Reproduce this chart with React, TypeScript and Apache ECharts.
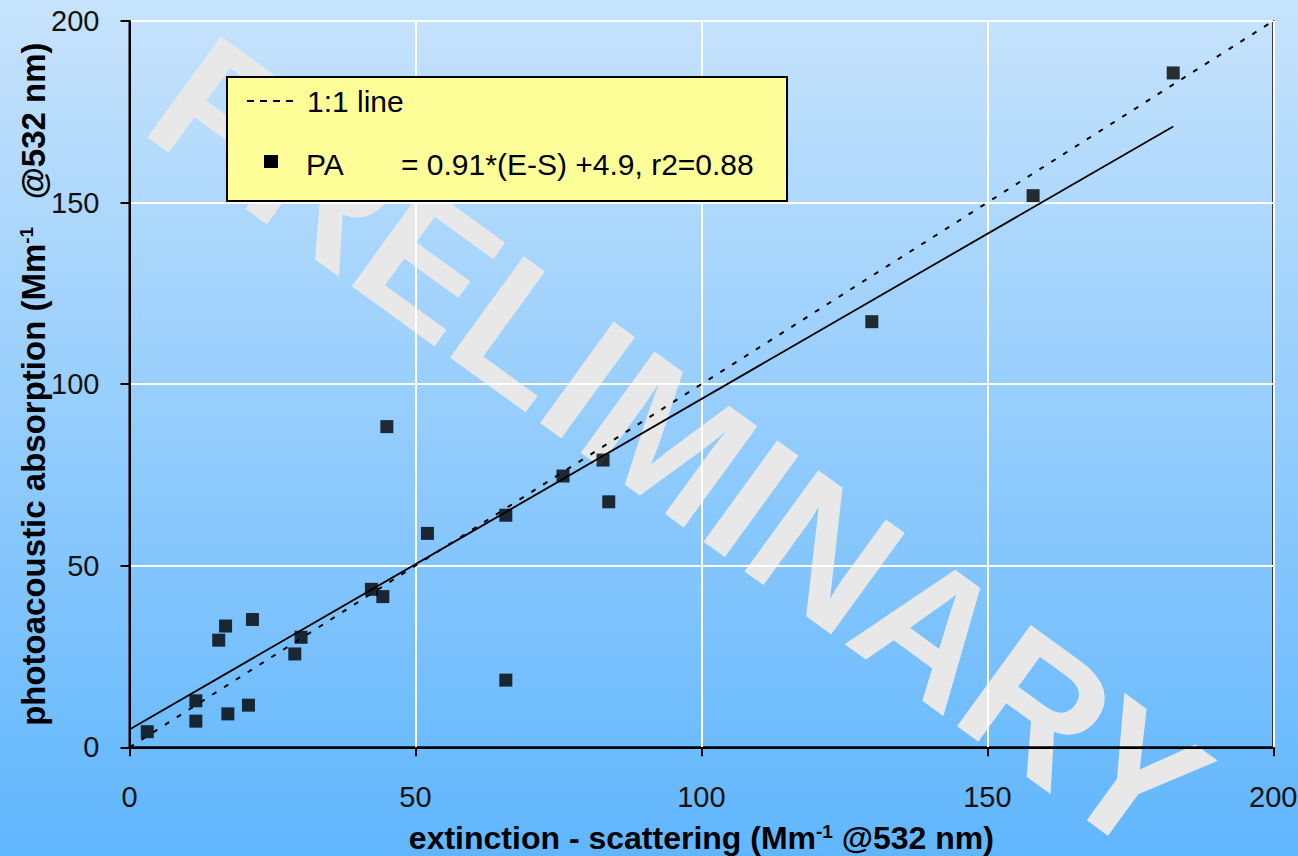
import React, { useEffect, useRef } from "react";
import * as echarts from "echarts";

// Measured pairs: extinction - scattering (x) vs photoacoustic absorption (y)
const extMinusScat = [3.1, 11.6, 11.6, 15.6, 16.8, 17.2, 20.8, 21.5, 28.9, 30.0, 42.3, 44.3, 45.0, 52.1, 65.8, 65.8, 75.8, 82.8, 83.8, 129.8, 158.0, 182.5];
const paAbsorption = [4.3, 12.8, 7.2, 29.5, 33.4, 9.2, 11.6, 35.2, 25.7, 30.3, 43.5, 41.5, 88.3, 58.9, 63.9, 18.5, 74.7, 79.1, 67.6, 117.2, 151.9, 185.7];

// Linear fit PA = 0.91*(E-S) + 4.9
const fitSlope = 0.91;
const fitIntercept = 4.9;

const axisTicks = [0, 50, 100, 150, 200];
const legendLine1 = "1:1 line";
const legendName = "PA";
const legendFit = "= 0.91*(E-S) +4.9, r2=0.88";
const watermark = "PRELIMINARY";

const FONT = "'Liberation Sans', Arial, sans-serif";

export default function App() {
  const ref = useRef<HTMLDivElement>(null);

  useEffect(() => {
    if (!ref.current) return;
    const chart = echarts.init(ref.current, undefined, { renderer: "svg" });

    const points = extMinusScat.map((x, i) => [x, paAbsorption[i]]);
    const fitEnd = Math.max(...extMinusScat);
    const fitLine = [
      [0, fitIntercept],
      [fitEnd, fitSlope * fitEnd + fitIntercept],
    ];
    const lo = axisTicks[0];
    const hi = axisTicks[axisTicks.length - 1];
    const oneToOne = [
      [lo, lo],
      [hi, hi],
    ];

    const nameStyle = (size: number) => ({
      fontFamily: FONT,
      fontSize: size,
      fontWeight: "bold" as const,
      color: "#000",
      rich: {
        t: { fontFamily: FONT, fontSize: size, fontWeight: "bold" as const, color: "#000" },
        s: { fontFamily: FONT, fontSize: 19, fontWeight: "bold" as const, color: "#000", verticalAlign: "top" as const },
      },
    });

    const valueAxis = (name: string, gap: number, size: number, labelMargin: number) => ({
      type: "value" as const,
      min: lo,
      max: hi,
      interval: axisTicks[1] - axisTicks[0],
      name,
      nameLocation: "middle" as const,
      nameGap: gap,
      nameMoveOverlap: false,
      nameTextStyle: nameStyle(size),
      axisLine: { show: true, lineStyle: { color: "#000", width: 2 } },
      axisTick: { show: true, inside: false, length: 9, lineStyle: { color: "#000", width: 2 } },
      axisLabel: { fontFamily: FONT, fontSize: 29, color: "#111", margin: labelMargin },
      splitLine: { show: true, lineStyle: { color: "#ffffff", width: 2 } },
    });

    const onTop = 100;

    chart.setOption({
      animation: false,
      backgroundColor: {
        type: "linear",
        x: 0,
        y: 0,
        x2: 0,
        y2: 1,
        colorStops: [
          { offset: 0, color: "#c7e3fc" },
          { offset: 1, color: "#60b6fd" },
        ],
      },
      grid: {
        left: 129.5,
        right: 24.7,
        top: 21,
        bottom: 108.7,
        outerBoundsMode: "none",
        containLabel: false,
        show: true,
        backgroundColor: "transparent",
        borderColor: "#000",
        borderWidth: 2,
      },
      xAxis: { ...valueAxis("{t|extinction - scattering (Mm}{s|-1}{t| @532 nm)}", 75, 32, 35) },
      yAxis: { ...valueAxis("{t|photoacoustic absorption (Mm}{s|-1}{t|   @532 nm)}", 80, 33, 30) },
      series: [
        {
          type: "line",
          data: oneToOne,
          symbol: "none",
          lineStyle: { color: "#000", width: 2, type: [5, 9] },
          z: 3,
        },
        {
          type: "line",
          data: fitLine,
          symbol: "none",
          lineStyle: { color: "#000", width: 1.8 },
          z: 3,
        },
        {
          type: "scatter",
          data: points,
          symbol: "rect",
          symbolSize: [13, 13],
          itemStyle: { color: "#000" },
          z: 4,
        },
      ],
      graphic: [
        {
          type: "text",
          z: -1,
          x: 679,
          y: 446,
          rotation: (-36 * Math.PI) / 180,
          silent: true,
          style: {
            text: watermark,
            x: 0,
            y: 0,
            align: "center",
            verticalAlign: "middle",
            fontFamily: FONT,
            fontWeight: "bold",
            fontSize: 182,
            fill: "#e8e8e8",
          },
        },
        {
          type: "rect",
          z: onTop,
          shape: { x: 227, y: 77, width: 560, height: 124 },
          style: { fill: "#ffff99", stroke: "#000", lineWidth: 2 },
        },
        {
          type: "line",
          z: onTop,
          shape: { x1: 247, y1: 101, x2: 297, y2: 101 },
          style: { stroke: "#000", lineWidth: 2, lineDash: [7, 6] },
        },
        {
          type: "text",
          z: onTop,
          style: { text: legendLine1, x: 307, y: 101, verticalAlign: "middle", fontFamily: FONT, fontSize: 30, fill: "#000" },
        },
        {
          type: "rect",
          z: onTop,
          shape: { x: 264, y: 155, width: 14, height: 13 },
          style: { fill: "#000" },
        },
        {
          type: "text",
          z: onTop,
          style: { text: legendName, x: 306, y: 164, verticalAlign: "middle", fontFamily: FONT, fontSize: 30, fill: "#000" },
        },
        {
          type: "text",
          z: onTop,
          style: { text: legendFit, x: 401, y: 164, verticalAlign: "middle", fontFamily: FONT, fontSize: 30, fill: "#000" },
        },
      ],
    });

    return () => chart.dispose();
  }, []);

  return (
    <div
      ref={ref}
      style={{ position: "fixed", left: 0, top: 0, width: 1298, height: 856, overflow: "hidden" }}
    />
  );
}
